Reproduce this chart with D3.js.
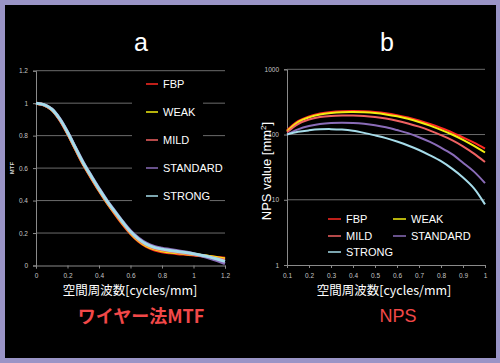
<!DOCTYPE html>
<html>
<head>
<meta charset="utf-8">
<script src="https://cdn.jsdelivr.net/npm/d3@7"></script>
<style>
  body { margin: 0; background: #9a94c6; }
  svg { display: block; }
  text { font-family: "Liberation Sans", Arial, sans-serif; }
</style>
</head>
<body>
<script>
// series names and colours
var seriesNames = ["FBP", "WEAK", "MILD", "STANDARD", "STRONG"];
var seriesColors = ["#ff2a22", "#f2ee10", "#f06262", "#8a6cb8", "#a6dcea"];

// MTF (wire method)
var mtfFreq = [0, 0.05, 0.1, 0.15, 0.2, 0.25, 0.3, 0.35, 0.4, 0.45, 0.5, 0.55, 0.6,
               0.65, 0.7, 0.75, 0.8, 0.85, 0.9, 0.95, 1.0, 1.05, 1.1, 1.15, 1.2];
var mtfFBP = [1.000,0.990,0.960,0.899,0.814,0.718,0.623,0.541,0.462,0.388,0.320,0.255,0.197,
              0.150,0.117,0.097,0.085,0.078,0.073,0.069,0.065,0.060,0.055,0.050,0.045];
var mtfWEAK = [1.000,0.990,0.961,0.901,0.816,0.720,0.626,0.544,0.465,0.391,0.324,0.260,0.201,
               0.155,0.122,0.102,0.091,0.083,0.078,0.073,0.068,0.062,0.056,0.048,0.040];
var mtfMILD = [1.000,0.990,0.962,0.902,0.818,0.722,0.628,0.547,0.468,0.394,0.328,0.264,0.205,
               0.160,0.128,0.108,0.097,0.089,0.082,0.076,0.069,0.061,0.052,0.042,0.032];
var mtfSTANDARD = [1.000,0.991,0.964,0.906,0.824,0.729,0.636,0.554,0.476,0.402,0.336,0.272,0.214,
                   0.170,0.138,0.118,0.107,0.099,0.091,0.083,0.073,0.060,0.046,0.030,0.012];
var mtfSTRONG = [1.000,0.991,0.963,0.904,0.821,0.726,0.632,0.551,0.472,0.398,0.332,0.268,0.209,
                 0.164,0.132,0.112,0.101,0.093,0.086,0.080,0.072,0.063,0.053,0.040,0.025];
var mtfXTicks = [0, 0.2, 0.4, 0.6, 0.8, 1, 1.2];
var mtfYTicks = [0, 0.2, 0.4, 0.6, 0.8, 1, 1.2];

// NPS
var npsFreq = [0.1, 0.15, 0.2, 0.25, 0.3, 0.35, 0.4, 0.45, 0.5, 0.55,
               0.6, 0.65, 0.7, 0.75, 0.8, 0.85, 0.9, 0.95, 1.0];
var npsFBP = [116,160,190,210,222,228,230,228,222,212,198,182,164,145,126,108,90,75,61];
var npsWEAK = [112,155,183,203,214,220,221,219,213,203,190,174,156,137,118,100,83,67,53];
var npsMILD = [108,145,170,185,193,196,196,193,186,176,163,148,132,115,98,82,66,51,38];
var npsSTANDARD = [100,120,135,145,150,151,150,146,139,129,117,105,91,77,63,50,37,27,18];
var npsSTRONG = [100,110,116,120,121,119,114,106,97,88,78,68,58,48,39,30,22,15,8.5];
var npsXTicks = [0.1, 0.2, 0.3, 0.4, 0.5, 0.6, 0.7, 0.8, 0.9, 1];
var npsYTicks = [1, 10, 100, 1000];

var mtfSeries = [mtfFBP, mtfWEAK, mtfMILD, mtfSTANDARD, mtfSTRONG];
var npsSeries = [npsFBP, npsWEAK, npsMILD, npsSTANDARD, npsSTRONG];

var W = 500, H = 363;
var gridColor = "#6c6c6c", axisColor = "#8a8a8a", tickText = "#c4c4c4";
var jp = "'Noto Sans CJK JP', 'Noto Sans', sans-serif";

var svg = d3.select("body").append("svg")
    .attr("width", W)
    .attr("height", H);

svg.append("rect")
    .attr("x", 5).attr("y", 5)
    .attr("width", 491).attr("height", 353)
    .attr("fill", "#000");

// ---------- panel a : MTF ----------
var xA = d3.scaleLinear().domain([0, 1.2]).range([36, 225]);
var yA = d3.scaleLinear().domain([0, 1.2]).range([265.5, 70.7]);

var gA = svg.append("g");

gA.selectAll(".gridA")
    .data(mtfYTicks.filter(function (d) { return d > 0; }))
    .enter().append("line")
    .attr("x1", xA(0)).attr("x2", xA(1.2))
    .attr("y1", function (d) { return yA(d); })
    .attr("y2", function (d) { return yA(d); })
    .attr("stroke", gridColor).attr("stroke-width", 1);

var axAx = gA.append("g")
    .attr("transform", "translate(0," + yA(0) + ")")
    .call(d3.axisBottom(xA).tickValues(mtfXTicks).tickSize(3).tickPadding(5)
        .tickFormat(d3.format("~g")));
var axAy = gA.append("g")
    .attr("transform", "translate(" + xA(0) + ",0)")
    .call(d3.axisLeft(yA).tickValues(mtfYTicks).tickSize(3).tickPadding(5)
        .tickFormat(d3.format("~g")));

[axAx, axAy].forEach(function (ax) {
    ax.select(".domain").attr("stroke", axisColor);
    ax.selectAll(".tick line").attr("stroke", axisColor);
    ax.selectAll(".tick text").attr("fill", tickText).style("font-size", "6.5px");
});

var lineA = d3.line()
    .x(function (d, i) { return xA(mtfFreq[i]); })
    .y(function (d) { return yA(d); })
    .curve(d3.curveCatmullRom);

gA.selectAll(".mtf")
    .data(mtfSeries)
    .enter().append("path")
    .attr("d", lineA)
    .attr("fill", "none")
    .attr("stroke", function (d, i) { return seriesColors[i]; })
    .attr("stroke-width", 3);

// legend a
var legA = gA.append("g");
legA.append("rect")
    .attr("x", 132).attr("y", 72).attr("width", 71).attr("height", 136)
    .attr("fill", "#000");
var legAItems = legA.selectAll(".legA")
    .data(seriesNames)
    .enter().append("g")
    .attr("transform", function (d, i) { return "translate(0," + (84 + i * 28) + ")"; });
legAItems.append("rect")
    .attr("x", 160).attr("y", -7)
    .attr("width", function (d) { return d.length * 7.6 + 4; })
    .attr("height", 14)
    .attr("fill", "#000");
legAItems.append("line")
    .attr("x1", 146).attr("x2", 158)
    .attr("stroke", function (d, i) { return seriesColors[i]; })
    .attr("stroke-width", 1.5);
legAItems.append("text")
    .attr("x", 163).attr("dy", "0.36em")
    .attr("fill", "#fff")
    .style("font-size", "11px")
    .text(function (d) { return d; });

gA.append("text")
    .attr("transform", "translate(14,168) rotate(-90)")
    .attr("text-anchor", "middle")
    .attr("fill", "#ddd")
    .style("font-size", "6px")
    .style("font-weight", "bold")
    .text("MTF");

gA.append("text")
    .attr("x", 141).attr("y", 51)
    .attr("text-anchor", "middle")
    .attr("fill", "#fff")
    .style("font-size", "25px")
    .text("a");

gA.append("text")
    .attr("x", 130).attr("y", 295)
    .attr("text-anchor", "middle")
    .attr("fill", "#fff")
    .style("font-family", jp)
    .style("font-size", "12.5px")
    .text("空間周波数[cycles/mm]");

gA.append("text")
    .attr("x", 141).attr("y", 323)
    .attr("text-anchor", "middle")
    .attr("fill", "#f24848")
    .style("font-family", jp)
    .style("font-size", "18px")
    .style("font-weight", "bold")
    .text("ワイヤー法MTF");

// ---------- panel b : NPS ----------
var xB = d3.scaleLinear().domain([0.1, 1]).range([287, 485]);
var yB = d3.scaleLog().domain([1, 1000]).range([265, 69.3]);

var gB = svg.append("g");

gB.selectAll(".gridB")
    .data(npsYTicks.filter(function (d) { return d > 1; }))
    .enter().append("line")
    .attr("x1", xB(0.1)).attr("x2", xB(1))
    .attr("y1", function (d) { return yB(d); })
    .attr("y2", function (d) { return yB(d); })
    .attr("stroke", gridColor).attr("stroke-width", 1);

var axBx = gB.append("g")
    .attr("transform", "translate(0," + yB(1) + ")")
    .call(d3.axisBottom(xB).tickValues(npsXTicks).tickSize(3).tickPadding(5)
        .tickFormat(d3.format("~g")));
var axBy = gB.append("g")
    .attr("transform", "translate(" + xB(0.1) + ",0)")
    .call(d3.axisLeft(yB).tickValues(npsYTicks).tickSize(3).tickPadding(5)
        .tickFormat(d3.format("d")));

[axBx, axBy].forEach(function (ax) {
    ax.select(".domain").attr("stroke", axisColor);
    ax.selectAll(".tick line").attr("stroke", axisColor);
    ax.selectAll(".tick text").attr("fill", tickText).style("font-size", "6.5px");
});

var lineB = d3.line()
    .x(function (d, i) { return xB(npsFreq[i]); })
    .y(function (d) { return yB(d); })
    .curve(d3.curveCatmullRom);

gB.selectAll(".nps")
    .data(npsSeries)
    .enter().append("path")
    .attr("d", lineB)
    .attr("fill", "none")
    .attr("stroke", function (d, i) { return seriesColors[i]; })
    .attr("stroke-width", 2);

// legend b
var legBPos = [[328, 219], [393, 219], [328, 236], [393, 236], [328, 252]];
var legBItems = gB.selectAll(".legB")
    .data(seriesNames)
    .enter().append("g")
    .attr("transform", function (d, i) {
        return "translate(" + legBPos[i][0] + "," + legBPos[i][1] + ")";
    });
legBItems.append("line")
    .attr("x1", 0).attr("x2", 13)
    .attr("stroke", function (d, i) { return seriesColors[i]; })
    .attr("stroke-width", 1.5);
legBItems.append("text")
    .attr("x", 18).attr("dy", "0.36em")
    .attr("fill", "#fff")
    .style("font-size", "11px")
    .text(function (d) { return d; });

var yTitle = gB.append("text")
    .attr("transform", "translate(266,171) rotate(-90)")
    .attr("text-anchor", "middle")
    .attr("dy", "0.36em")
    .attr("fill", "#fff")
    .style("font-size", "13px");
yTitle.append("tspan").text("NPS value [mm");
yTitle.append("tspan").attr("dy", "-5").style("font-size", "8px").text("2");
yTitle.append("tspan").attr("dy", "5").text("]");

gB.append("text")
    .attr("x", 387).attr("y", 51)
    .attr("text-anchor", "middle")
    .attr("fill", "#fff")
    .style("font-size", "25px")
    .text("b");

gB.append("text")
    .attr("x", 384).attr("y", 295)
    .attr("text-anchor", "middle")
    .attr("fill", "#fff")
    .style("font-family", jp)
    .style("font-size", "12.5px")
    .text("空間周波数[cycles/mm]");

gB.append("text")
    .attr("x", 398).attr("y", 322)
    .attr("text-anchor", "middle")
    .attr("fill", "#f24848")
    .style("font-size", "18px")
    .text("NPS");
</script>
</body>
</html>
